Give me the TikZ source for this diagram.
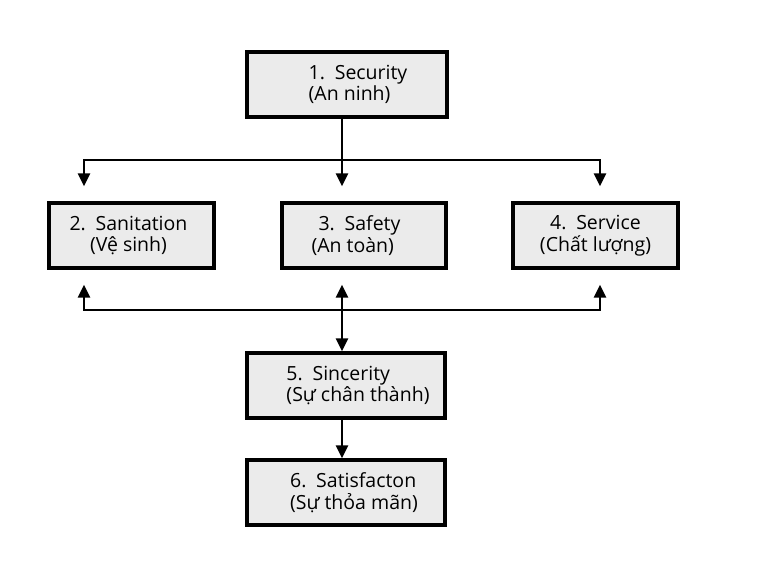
\documentclass[tikz,border=0pt]{standalone}
\usepackage{fontspec}
\setmainfont{Open Sans}
\usetikzlibrary{arrows.meta}

\begin{document}
\begin{tikzpicture}[x=1pt,y=-1pt,
    box/.style={draw=black,line width=3.4pt,fill=black!8,minimum height=65pt,inner sep=0pt},
    lbl/.style={font=\fontsize{19.5}{21.5}\selectfont,text=black,inner sep=0pt},
    link/.style={line width=2.8pt,-{Triangle[length=13pt,width=12pt]}},
    both/.style={line width=2.8pt,{Triangle[length=13pt,width=12pt]}-{Triangle[length=13pt,width=12pt]}}]
  \useasboundingbox[fill=white] (0,0) rectangle (768,571);
  \coordinate (xl) at (84,0);
  \coordinate (xm) at (342,0);
  \coordinate (xr) at (600,0);
  \coordinate (ytop) at (0,160);
  \coordinate (ybot) at (0,310);

  \node[box,minimum width=200pt] (sec) at (347,84.5) {};
  \node[box,minimum width=165pt] (san) at (131.5,235.5) {};
  \node[box,minimum width=164pt] (saf) at (364,235.5) {};
  \node[box,minimum width=165pt] (ser) at (595.5,235.5) {};
  \node[box,minimum width=198pt] (sin) at (346,385.5) {};
  \node[box,minimum width=198pt] (sat) at (346,492.5) {};

  \node[lbl,align=left] (sectxt) at ([xshift=11pt]sec.center) {1.\enspace Security\\(An ninh)};
  \node[lbl,align=center] (santxt) at ([xshift=-3pt]san.center) {2.\enspace Sanitation\\(Vệ sinh)};
  \node[lbl,align=left] (saftxt) at ([xshift=-8pt]saf.center) {\hspace*{7pt}3.\enspace Safety\\(An toàn)};
  \node[lbl,align=center] (sertxt) at (ser.center) {4.\enspace Service\\(Chất lượng)};
  \node[lbl,align=left] (sintxt) at ([xshift=12pt]sin.center) {5.\enspace Sincerity\\(Sự chân thành)};
  \node[lbl,align=left] (sattxt) at ([xshift=8pt]sat.center) {6.\enspace Satisfacton\\(Sự thỏa mãn)};

  \draw[link,shorten >=15pt] (sec.south -| xm) -- (saf.north -| xm);
  \draw[both,shorten >=15pt,shorten <=15pt] (san.north -| xl) -- (xl |- ytop)
    -- (xr |- ytop) -- (ser.north -| xr);
  \draw[both,shorten >=15pt,shorten <=15pt] (san.south -| xl) -- (xl |- ybot)
    -- (xr |- ybot) -- (ser.south -| xr);
  \draw[both,shorten <=15pt] (saf.south -| xm) -- (sin.north -| xm);
  \draw[link] (sin.south -| xm) -- (sat.north -| xm);
\end{tikzpicture}
\end{document}
